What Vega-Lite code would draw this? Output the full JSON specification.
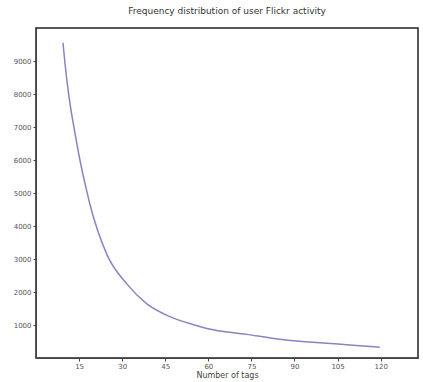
{
  "$schema": "https://vega.github.io/schema/vega-lite/v6.json",
  "autosize": {"type": "none"},
  "width": 382,
  "height": 330,
  "padding": {"left": 36, "top": 28, "right": 5, "bottom": 24},
  "background": "white",
  "title": {"text": "Frequency distribution of user Flickr activity", "fontSize": 9, "font": "DejaVu Sans", "fontWeight": "normal", "color": "#333", "offset": 12},
  "config": {
    "view": {"stroke": "#222", "strokeWidth": 1.5},
    "axis": {"grid": false, "domainColor": "#444", "tickColor": "#444", "labelColor": "#555", "labelFontSize": 7, "labelFont": "DejaVu Sans", "titleFont": "DejaVu Sans", "titleFontSize": 8, "titleFontWeight": "normal", "titleColor": "#444", "tickSize": 3}
  },
  "data": {"values": [
    {"x": 9.4, "y": 9552},
    {"x": 10.1, "y": 8925},
    {"x": 11.5, "y": 7910},
    {"x": 13.6, "y": 6800},
    {"x": 16.0, "y": 5700},
    {"x": 17.1, "y": 5280},
    {"x": 18.8, "y": 4650},
    {"x": 24.7, "y": 3134},
    {"x": 31.7, "y": 2239},
    {"x": 38.6, "y": 1642},
    {"x": 46.6, "y": 1254},
    {"x": 54.6, "y": 1015},
    {"x": 59.5, "y": 896},
    {"x": 73.4, "y": 716},
    {"x": 84.9, "y": 567},
    {"x": 98.8, "y": 460},
    {"x": 110.3, "y": 390},
    {"x": 119.7, "y": 328}
  ]},
  "mark": {"type": "line", "color": "#8585c4", "strokeWidth": 1.5, "interpolate": "monotone"},
  "encoding": {
    "x": {"field": "x", "type": "quantitative", "scale": {"domain": [0, 133], "nice": false}, "axis": {"values": [15, 30, 45, 60, 75, 90, 105, 120], "title": "Number of tags", "titlePadding": 2, "labelPadding": 1}},
    "y": {"field": "y", "type": "quantitative", "scale": {"domain": [0, 10000], "nice": false}, "axis": {"values": [1000, 2000, 3000, 4000, 5000, 6000, 7000, 8000, 9000], "format": "d", "title": null, "labelPadding": 2}}
  }
}
